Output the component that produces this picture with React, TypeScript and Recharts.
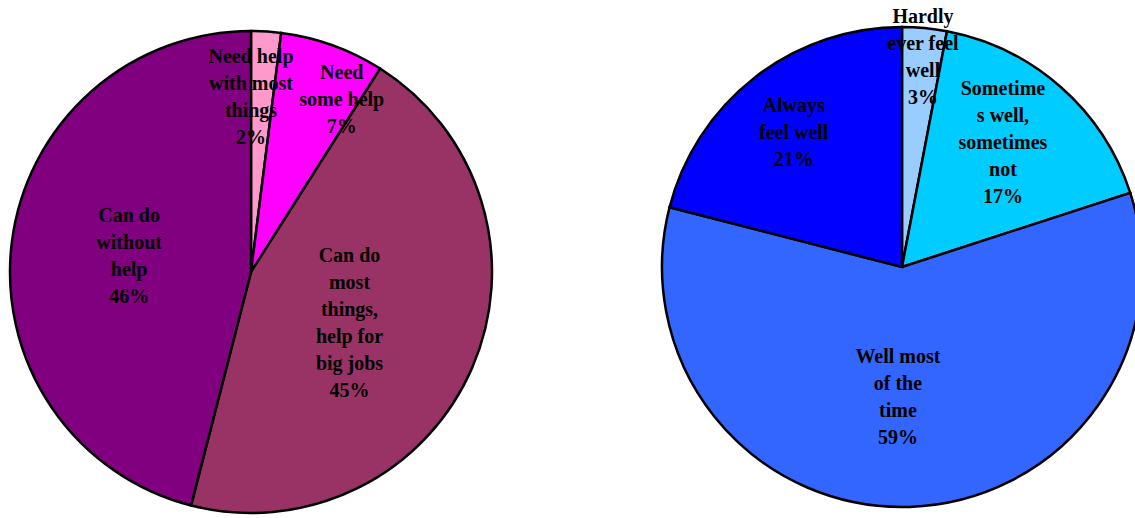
import { PieChart, Pie, Cell } from "recharts";

// left pie: ability to do things
const LEFT_NAMES = [
  ["Need help", "with most", "things"],
  ["Need", "some help"],
  ["Can do", "most", "things,", "help for", "big jobs"],
  ["Can do", "without", "help"],
];
const LEFT_VALUES = [2, 7, 45, 46];
const LEFT_COLORS = ["#FF99CC", "#FF00FF", "#993366", "#800080"];

// right pie: how people feel
const RIGHT_NAMES = [
  ["Hardly", "ever feel", "well"],
  ["Sometime", "s well,", "sometimes", "not"],
  ["Well most", "of the", "time"],
  ["Always", "feel well"],
];
const RIGHT_VALUES = [3, 17, 59, 21];
const RIGHT_COLORS = ["#99CCFF", "#00CCFF", "#3366FF", "#0000FF"];

// label placement: fraction of radius + clockwise nudge in degrees
const LEFT_LABEL_R = [0.73, 0.81, 0.46, 0.51];
const LEFT_LABEL_NUDGE = [-3.6, 7.9, 3.9, 0.3];
const RIGHT_LABEL_R = [0.88, 0.67, 0.54, 0.72];
const RIGHT_LABEL_NUDGE = [0.3, -2.5, 3.6, -1];

const LINE_H = 27;
const RAD = Math.PI / 180;

const toRows = (names: string[][], values: number[]) =>
  values.map((v, i) => ({ name: names[i].join(" "), value: v, lines: [...names[i], `${v}%`] }));

const leftData = toRows(LEFT_NAMES, LEFT_VALUES);
const rightData = toRows(RIGHT_NAMES, RIGHT_VALUES);

function makeLabel(rows: { lines: string[] }[], radii: number[], nudges: number[]) {
  return (props: any) => {
    const { cx, cy, midAngle, outerRadius, index } = props;
    const a = (midAngle - nudges[index]) * RAD;
    const r = outerRadius * radii[index];
    const x = cx + r * Math.cos(a);
    const y = cy - r * Math.sin(a);
    const lines = rows[index].lines;
    const y0 = y - ((lines.length - 1) * LINE_H) / 2;
    return (
      <text
        key={`lbl-${index}`}
        x={x}
        y={y0}
        textAnchor="middle"
        dominantBaseline="central"
        fill="#000"
        fontFamily="'Liberation Serif', 'Times New Roman', serif"
        fontWeight="bold"
        fontSize={20}
      >
        {lines.map((l, i) => (
          <tspan key={i} x={x} y={y0 + i * LINE_H}>
            {l}
          </tspan>
        ))}
      </text>
    );
  };
}

export default function App() {
  return (
    <div style={{ position: "absolute", left: 0, top: 0, width: 1135, height: 518, overflow: "hidden", background: "#fff" }}>
      <PieChart width={1135} height={518} margin={{ top: 0, right: 0, bottom: 0, left: 0 }}>
        <Pie
          data={leftData}
          dataKey="value"
          cx={251}
          cy={272}
          outerRadius={241}
          startAngle={90}
          endAngle={-270}
          stroke="#000"
          strokeWidth={2.5}
          labelLine={false}
          label={makeLabel(leftData, LEFT_LABEL_R, LEFT_LABEL_NUDGE)}
          isAnimationActive={false}
        >
          {leftData.map((d, i) => (
            <Cell key={d.name} fill={LEFT_COLORS[i]} />
          ))}
        </Pie>
        <Pie
          data={rightData}
          dataKey="value"
          cx={902}
          cy={267}
          outerRadius={240}
          startAngle={90}
          endAngle={-270}
          stroke="#000"
          strokeWidth={2.5}
          labelLine={false}
          label={makeLabel(rightData, RIGHT_LABEL_R, RIGHT_LABEL_NUDGE)}
          isAnimationActive={false}
        >
          {rightData.map((d, i) => (
            <Cell key={d.name} fill={RIGHT_COLORS[i]} />
          ))}
        </Pie>
      </PieChart>
    </div>
  );
}
